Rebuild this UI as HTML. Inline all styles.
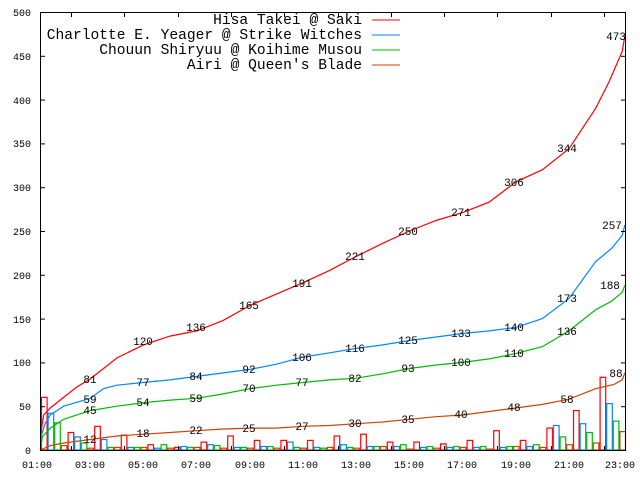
<!DOCTYPE html>
<html><head><meta charset="utf-8"><style>
body{margin:0;background:#fff}
svg{display:block}
.t{font-family:"Liberation Mono",monospace;font-size:10px;fill:#000}
.l{font-family:"Liberation Mono",monospace;font-size:14.6px;fill:#000}
.v{font-family:"Liberation Mono",monospace;font-size:11px;fill:#000}
</style></head><body>
<svg id="s" width="640" height="480" viewBox="0 0 640 480" xmlns="http://www.w3.org/2000/svg">
<rect x="0" y="0" width="640" height="480" fill="#fff"/>
<g id="bars"></g>
<g id="lines"></g>
<g id="ticks" stroke="#000" stroke-width="1"></g>
<rect x="40.5" y="12.5" width="585" height="438" fill="none" stroke="#000" stroke-width="1"/>
<g class="t" text-anchor="end">
<text x="31" y="454">0</text><text x="31" y="410">50</text><text x="31" y="366">100</text><text x="31" y="323">150</text><text x="31" y="279">200</text><text x="31" y="235">250</text><text x="31" y="191">300</text><text x="31" y="147">350</text><text x="31" y="104">400</text><text x="31" y="60">450</text><text x="31" y="16">500</text>
</g>
<g class="t" text-anchor="middle">
<text x="37" y="468">01:00</text><text x="90" y="468">03:00</text><text x="143" y="468">05:00</text><text x="196" y="468">07:00</text><text x="250" y="468">09:00</text><text x="303" y="468">11:00</text><text x="356" y="468">13:00</text><text x="409" y="468">15:00</text><text x="462" y="468">17:00</text><text x="516" y="468">19:00</text><text x="569" y="468">21:00</text><text x="620" y="468">23:00</text>
</g>
<g class="l" text-anchor="end">
<text x="362" y="24">Hisa Takei @ Saki</text>
<text x="362" y="39">Charlotte E. Yeager @ Strike Witches</text>
<text x="362" y="54">Chouun Shiryuu @ Koihime Musou</text>
<text x="362" y="69">Airi @ Queen's Blade</text>
</g>
<line x1="372" y1="20" x2="400" y2="20" stroke="#f00"/>
<line x1="372" y1="35" x2="400" y2="35" stroke="#08f"/>
<line x1="372" y1="50" x2="400" y2="50" stroke="#0b0"/>
<line x1="372" y1="65" x2="400" y2="65" stroke="#c40"/>
<g class="v" text-anchor="middle">
<text x="90" y="383">81</text><text x="143" y="345">120</text><text x="196" y="331">136</text><text x="249" y="309">165</text><text x="302" y="287">191</text><text x="355" y="260">221</text><text x="408" y="235">250</text><text x="461" y="216">271</text><text x="514" y="186">306</text><text x="567" y="152">344</text><text x="616" y="40">473</text>
<text x="90" y="403">59</text><text x="143" y="386">77</text><text x="196" y="380">84</text><text x="249" y="373">92</text><text x="302" y="361">106</text><text x="355" y="352">116</text><text x="408" y="344">125</text><text x="461" y="337">133</text><text x="514" y="331">140</text><text x="567" y="302">173</text><text x="612" y="229">257</text>
<text x="90" y="414">45</text><text x="143" y="406">54</text><text x="196" y="402">59</text><text x="249" y="392">70</text><text x="302" y="386">77</text><text x="355" y="382">82</text><text x="408" y="372">93</text><text x="461" y="366">100</text><text x="514" y="357">110</text><text x="567" y="335">136</text><text x="610" y="289">188</text>
<text x="90" y="443">12</text><text x="143" y="437">18</text><text x="196" y="434">22</text><text x="249" y="432">25</text><text x="302" y="430">27</text><text x="355" y="427">30</text><text x="408" y="423">35</text><text x="461" y="418">40</text><text x="514" y="411">48</text><text x="567" y="403">58</text><text x="616" y="377">88</text>
</g>
</svg>
<script>
var NS="http://www.w3.org/2000/svg";
function X(t){return Math.max(40.5,37+(t-1)*26.6);}
function Y(v){return 450-v*0.876;}
var cols=["#f00","#08f","#0b0","#c40"];
var bars=[
[60,20,27,17,6,3,9,16,11,11,11,16,18,9,9,7,11,22,11,25,45,83],
[42,15,12,3,2,4,6,3,4,9,3,6,4,4,3,3,3,3,4,28,30,53],
[31,8,3,3,6,3,5,3,4,3,2,3,4,6,4,4,4,4,6,15,20,33],
[5,2,3,3,2,3,2,2,2,2,3,2,4,1,2,3,1,4,3,6,8,21]];
var g=document.getElementById("bars");
for(var s=0;s<4;s++)for(var i=0;i<22;i++){var v=bars[s][i];var r=document.createElementNS(NS,"rect");
var x=41.5+i*26.6+s*6.6;r.setAttribute("x",x.toFixed(1));r.setAttribute("y",Y(v).toFixed(1));r.setAttribute("width","5.6");r.setAttribute("height",(v*0.876).toFixed(1));
r.setAttribute("fill","none");r.setAttribute("stroke",cols[s]);r.setAttribute("stroke-width","1.2");g.appendChild(r);}
var L=[
[[1,0],[1.15,20],[1.25,40],[1.5,48],[2,60],[2.5,72],[3,81],[4,105],[5,120],[6,130],[7,136],[8,148],[9,165],[10,178],[11,191],[12,205],[13,221],[14,236],[15,250],[16,262],[17,271],[18,283],[19,306],[20,320],[21,344],[22,390],[22.5,420],[23,455],[23.1,473]],
[[1,0],[1.15,15],[1.3,30],[1.5,40],[2,50],[3,59],[3.5,70],[4,74],[5,77],[6,80],[7,84],[8,88],[9,92],[10,98],[11,106],[12,111],[13,116],[14,120],[15,125],[16,129],[17,133],[18,136],[19,140],[20,150],[21,173],[22,215],[22.6,230],[23,245],[23.1,257]],
[[1,0],[1.2,15],[1.5,25],[2,35],[3,45],[4,50],[5,54],[6,57],[7,59],[8,64],[9,70],[10,74],[11,77],[12,80],[13,82],[14,87],[15,93],[16,97],[17,100],[18,104],[19,110],[20,118],[21,136],[22,160],[22.6,170],[23,180],[23.1,188]],
[[1,0],[1.5,5],[2,8],[3,12],[4,16],[5,18],[6,20],[7,22],[8,24],[9,25],[10,25],[11,27],[12,28],[13,30],[14,32],[15,35],[16,38],[17,40],[18,44],[19,48],[20,52],[21,58],[22,70],[22.7,75],[23,80],[23.1,88]]];
var gl=document.getElementById("lines");
for(var s=0;s<4;s++){var p=L[s].map(function(a){return X(a[0]).toFixed(1)+","+Y(a[1]).toFixed(1);}).join(" ");
var pl=document.createElementNS(NS,"polyline");pl.setAttribute("points",p);pl.setAttribute("fill","none");pl.setAttribute("stroke",cols[s]);pl.setAttribute("stroke-width","1.2");gl.appendChild(pl);}
var gt=document.getElementById("ticks");
function ln(a,b,c,d){var l=document.createElementNS(NS,"line");l.setAttribute("x1",a);l.setAttribute("y1",b);l.setAttribute("x2",c);l.setAttribute("y2",d);gt.appendChild(l);}
for(var k=0;k<=10;k++){var y=Y(k*50)+0.5;ln(40,y,45,y);ln(621,y,626,y);}
for(var k=0;k<11;k++){var x=Math.round(71+53.3*k)+0.5;ln(x,12,x,17);ln(x,446,x,451);}
</script>
</body></html>
